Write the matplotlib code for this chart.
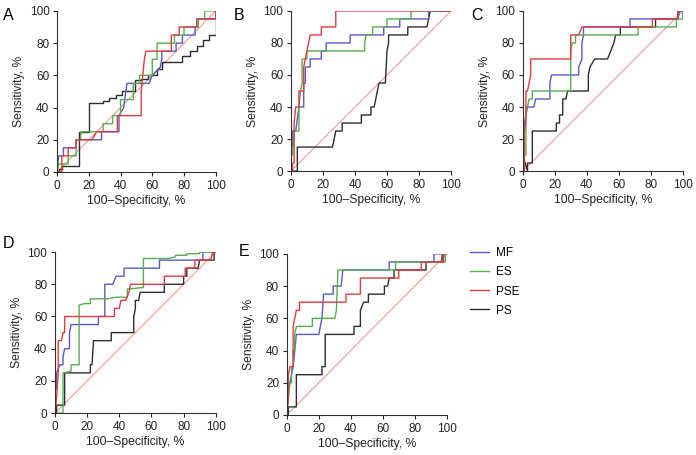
import matplotlib.pyplot as plt
from matplotlib.lines import Line2D

plt.rcParams['font.family'] = ['Liberation Sans', 'DejaVu Sans']

series_names = ['MF', 'ES', 'PSE', 'PS']
colors = {'MF': '#5858cc', 'ES': '#52b04e', 'PSE': '#e23c3c', 'PS': '#2e2e2e'}
ticks = [0, 20, 40, 60, 80, 100]

# ROC vertices (100-specificity %, sensitivity %)
roc_A = {
    'MF': ([0, 1, 4, 4, 12, 12, 28, 28, 39, 39, 42, 44, 53, 53, 58, 60, 65, 66, 66, 75, 75, 79, 79, 87, 87, 89, 89, 100, 100],
           [0, 10, 10, 15, 15, 20, 20, 25, 25, 35, 40, 55, 55, 55, 55, 60, 65, 70, 75, 75, 80, 80, 85, 85, 90, 90, 95, 95, 100]),
    'ES': ([0, 1, 7, 7, 12, 12, 15, 15, 29, 29, 35, 35, 40, 40, 48, 48, 52, 52, 60, 60, 63, 63, 74, 74, 80, 80, 89, 89, 93, 93, 100],
           [0, 5, 5, 10, 10, 20, 20, 25, 25, 30, 30, 35, 35, 45, 45, 55, 55, 60, 60, 70, 70, 80, 80, 85, 85, 90, 90, 95, 95, 100, 100]),
    'PSE': ([0, 3, 3, 7, 7, 12, 12, 22, 25, 38, 38, 53, 53, 55, 56, 72, 72, 77, 77, 88, 88, 100, 100],
            [0, 0, 10, 10, 15, 15, 20, 20, 25, 25, 35, 35, 50, 70, 75, 75, 85, 85, 90, 90, 95, 95, 100]),
    'PS': ([0, 1, 1, 3, 3, 14, 14, 20, 20, 29, 29, 33, 33, 37, 37, 41, 41, 49, 49, 53, 53, 57, 57, 63, 63, 66, 66, 79, 79, 84, 84, 88, 88, 92, 92, 96, 96, 100, 100],
           [0, 0, 2, 2, 4, 4, 25, 25, 43, 43, 44, 44, 46, 46, 48, 48, 50, 50, 57, 57, 58, 58, 60, 60, 64, 64, 68, 68, 72, 72, 75, 75, 78, 78, 82, 82, 85, 85, 100]),
}
roc_B = {
    'MF': ([0, 0, 1, 1, 3, 5, 8, 8, 9, 9, 12, 12, 19, 19, 22, 22, 37, 37, 58, 58, 68, 68, 86, 86, 100],
           [0, 15, 15, 25, 25, 40, 40, 55, 55, 65, 65, 70, 70, 75, 75, 80, 80, 85, 85, 90, 90, 95, 95, 100, 100]),
    'ES': ([0, 0, 1, 2, 5, 5, 6, 7, 7, 10, 10, 46, 46, 47, 51, 51, 60, 60, 75, 75, 100],
           [0, 10, 10, 25, 25, 40, 50, 55, 70, 70, 75, 75, 80, 85, 85, 90, 90, 95, 95, 100, 100]),
    'PSE': ([0, 1, 1, 2, 2, 3, 5, 5, 8, 8, 9, 10, 11, 12, 19, 19, 28, 28, 100],
            [0, 0, 5, 5, 30, 40, 40, 50, 50, 65, 70, 75, 80, 85, 85, 90, 90, 100, 100]),
    'PS': ([0, 4, 4, 26, 27, 28, 32, 32, 44, 44, 50, 50, 52, 53, 54, 55, 59, 60, 61, 61, 73, 73, 85, 86, 87, 100],
           [0, 0, 15, 15, 20, 25, 25, 30, 30, 35, 35, 40, 40, 45, 50, 55, 55, 75, 80, 85, 85, 90, 90, 95, 100, 100]),
}
roc_C = {
    'MF': ([0, 0, 1, 2, 3, 7, 8, 17, 17, 18, 35, 35, 37, 37, 38, 38, 67, 67, 97, 98, 100, 100],
           [0, 10, 30, 35, 40, 40, 45, 45, 55, 60, 60, 65, 70, 80, 85, 90, 90, 95, 95, 100, 100, 95]),
    'ES': ([0, 1, 2, 2, 3, 4, 6, 6, 30, 30, 31, 33, 33, 72, 72, 96, 96, 100, 100],
           [0, 10, 10, 40, 40, 45, 45, 50, 50, 75, 80, 80, 85, 85, 90, 90, 95, 95, 100]),
    'PSE': ([0, 1, 1, 2, 2, 3, 4, 5, 5, 30, 30, 35, 37, 81, 81, 97, 97, 100],
            [0, 0, 25, 30, 50, 50, 55, 60, 70, 70, 85, 85, 90, 90, 95, 95, 100, 100]),
    'PS': ([0, 0, 3, 3, 6, 6, 21, 21, 23, 23, 25, 25, 27, 28, 41, 41, 42, 45, 53, 55, 57, 58, 61, 61, 83, 83, 97, 97, 100],
           [0, 10, 0, 5, 5, 25, 25, 30, 30, 35, 35, 45, 45, 50, 50, 60, 65, 70, 70, 75, 80, 85, 85, 90, 90, 95, 95, 100, 100]),
}
roc_D = {
    'MF': ([0, 0, 1, 1, 3, 5, 5, 6, 9, 9, 10, 27, 27, 31, 31, 36, 38, 43, 43, 65, 65, 92, 92, 100],
           [0, 15, 15, 25, 30, 30, 35, 40, 40, 50, 55, 55, 60, 60, 80, 80, 85, 85, 90, 90, 95, 95, 100, 100]),
    'ES': ([0, 5, 5, 10, 10, 15, 15, 18, 22, 22, 33, 38, 45, 45, 55, 55, 70, 75, 75, 82, 82, 90, 90, 100],
           [0, 0, 25, 26, 30, 30, 67, 68, 68, 71, 71, 72, 72, 77, 78, 96, 96, 97, 98, 98, 99, 99, 100, 100]),
    'PSE': ([0, 1, 2, 2, 4, 5, 6, 6, 37, 37, 40, 41, 44, 46, 47, 68, 68, 81, 81, 87, 87, 97, 98, 100],
            [0, 10, 25, 45, 45, 50, 50, 60, 60, 65, 65, 70, 70, 75, 80, 80, 85, 85, 90, 90, 95, 95, 100, 100]),
    'PS': ([0, 1, 1, 6, 6, 22, 22, 23, 24, 35, 35, 49, 49, 50, 50, 52, 53, 68, 68, 80, 80, 82, 82, 89, 90, 99, 99, 100],
           [0, 0, 5, 5, 25, 25, 30, 30, 45, 45, 50, 50, 60, 65, 70, 70, 75, 75, 80, 80, 85, 85, 90, 90, 95, 95, 100, 100]),
}
roc_E = {
    'MF': ([0, 1, 2, 4, 5, 6, 20, 21, 22, 23, 29, 29, 34, 35, 64, 64, 92, 92, 100],
           [0, 15, 20, 30, 40, 50, 50, 55, 60, 75, 75, 80, 80, 90, 90, 95, 95, 100, 100]),
    'ES': ([0, 2, 3, 3, 4, 4, 5, 5, 6, 16, 16, 30, 31, 32, 68, 68, 99, 99, 100],
           [0, 20, 20, 30, 30, 40, 40, 50, 55, 55, 60, 60, 65, 90, 90, 95, 95, 100, 100]),
    'PSE': ([0, 1, 1, 2, 4, 4, 5, 6, 8, 8, 37, 37, 46, 46, 70, 70, 84, 84, 98, 98, 100],
            [0, 10, 25, 30, 30, 55, 60, 65, 65, 70, 70, 75, 75, 85, 85, 90, 90, 95, 95, 100, 100]),
    'PS': ([0, 1, 1, 6, 6, 22, 22, 24, 24, 42, 42, 46, 46, 48, 51, 51, 61, 61, 63, 64, 67, 67, 87, 87, 97, 97, 100],
           [0, 0, 5, 5, 25, 25, 30, 30, 50, 50, 55, 55, 65, 70, 70, 75, 75, 80, 80, 85, 85, 90, 90, 95, 95, 100, 100]),
}

panels = [
    ('A', roc_A, [0.082, 0.622, 0.228, 0.354], (3, 15)),
    ('B', roc_B, [0.418, 0.624, 0.230, 0.352], (234, 15)),
    ('C', roc_C, [0.751, 0.624, 0.230, 0.352], (471, 15)),
    ('D', roc_D, [0.079, 0.092, 0.231, 0.354], (3, 244)),
    ('E', roc_E, [0.412, 0.088, 0.230, 0.354], (239, 252)),
]

fig = plt.figure(figsize=(6.96, 4.55), dpi=100)

for letter, data, rect, (lx, ly) in panels:
    ax = fig.add_axes(rect)
    ax.plot([0, 100], [0, 100], color='#f08a8a', lw=0.7)
    for name in ['PS', 'MF', 'ES', 'PSE']:
        xs, ys = data[name]
        ax.plot(xs, ys, color=colors[name], lw=1.0)
    ax.set_xlim(0, 100)
    ax.set_ylim(0, 100)
    ax.set_xticks(ticks)
    ax.set_yticks(ticks)
    ax.spines['top'].set_visible(False)
    ax.spines['right'].set_visible(False)
    ax.spines['left'].set_color('#333333')
    ax.spines['bottom'].set_color('#333333')
    ax.tick_params(labelsize=8.5, length=3, width=0.8, colors='#222222', pad=2.5)
    ax.set_xlabel('100\u2013Specificity, %', fontsize=8.7, labelpad=2.5, color='#222222')
    ax.set_ylabel('Sensitivity, %', fontsize=8.7, labelpad=3, color='#222222')
    fig.text(lx / 696, 1 - ly / 455, letter, fontsize=11.5, ha='left', va='center')

handles = [Line2D([], [], color=colors[n], lw=1.0) for n in series_names]
fig.legend(handles, series_names, loc='upper left', bbox_to_anchor=(468 / 696, 1 - 245 / 455),
           frameon=False, fontsize=8.5, handlelength=1.6, handletextpad=0.6, labelspacing=0.6,
           borderaxespad=0, borderpad=0.2)

fig.savefig('out.png', dpi=100)
